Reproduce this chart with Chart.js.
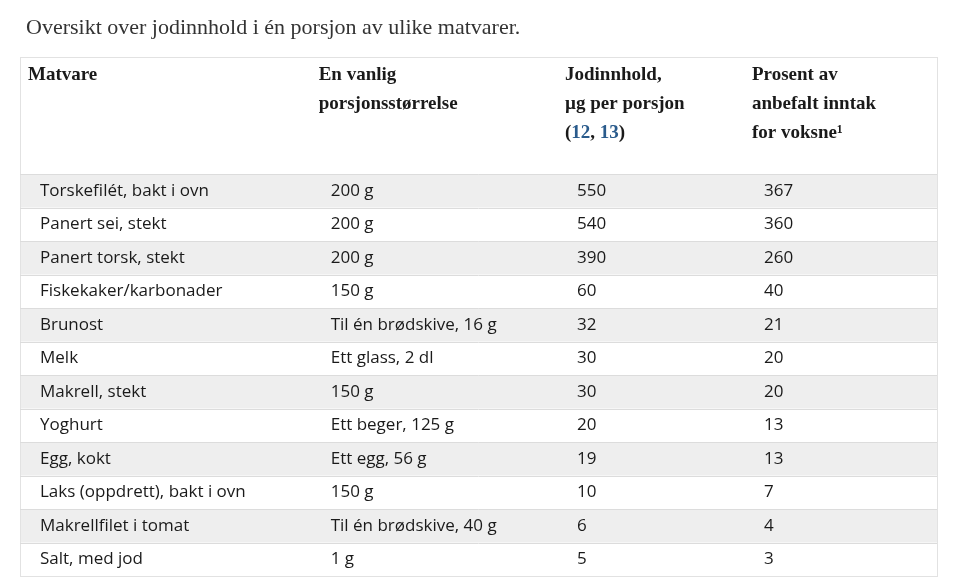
<!DOCTYPE html>
<html>
<head>
<meta charset="utf-8">
<script src="https://cdn.jsdelivr.net/npm/chart.js@4"></script>
<style>
  html, body { margin: 0; padding: 0; background: #fff; }
  #wrap { width: 960px; height: 586px; position: relative; }
</style>
</head>
<body>
<div id="wrap"><canvas id="table-chart"></canvas></div>
<script>
const title = 'Oversikt over jodinnhold i én porsjon av ulike matvarer.';
const headers = [
    ['Matvare'],
    ['En vanlig', 'porsjonsstørrelse'],
    ['Jodinnhold,', 'µg per porsjon', '(12, 13)'],
    ['Prosent av', 'anbefalt inntak', 'for voksne¹']
];
const foods = ['Torskefilét, bakt i ovn', 'Panert sei, stekt', 'Panert torsk, stekt', 'Fiskekaker/karbonader',
    'Brunost', 'Melk', 'Makrell, stekt', 'Yoghurt', 'Egg, kokt', 'Laks (oppdrett), bakt i ovn',
    'Makrellfilet i tomat', 'Salt, med jod'];
const portions = ['200 g', '200 g', '200 g', '150 g', 'Til én brødskive, 16 g', 'Ett glass, 2 dl', '150 g',
    'Ett beger, 125 g', 'Ett egg, 56 g', '150 g', 'Til én brødskive, 40 g', '1 g'];
const iodine = [550, 540, 390, 60, 32, 30, 30, 20, 19, 10, 6, 5];
const percent = [367, 360, 260, 40, 21, 20, 20, 13, 13, 7, 4, 3];

// column start positions on the hidden x scale
const columnStarts = [0, 0.317, 0.5856, 0.7895];

const tablePlugin = {
    id: 'table',
    beforeDraw(chart) {
        const {ctx, scales: {x, y}, chartArea} = chart;
        const rowH = (chartArea.bottom - chartArea.top) / foods.length;
        ctx.save();
        ctx.fillStyle = '#fff';
        ctx.fillRect(0, 0, chart.width, chart.height);

        // title
        ctx.fillStyle = '#333';
        ctx.font = '22px "Liberation Serif", "DejaVu Serif", serif';
        ctx.textBaseline = 'middle';
        ctx.fillText(title, 26, 28);

        // outer box
        ctx.strokeStyle = '#e2e2e2';
        ctx.lineWidth = 1;
        ctx.strokeRect(chartArea.left + 0.5, 57.5, chartArea.right - chartArea.left, chartArea.bottom - 57);

        // headers
        ctx.fillStyle = '#1a1a1a';
        ctx.font = 'bold 19px "Liberation Serif", "DejaVu Serif", serif';
        headers.forEach((lines, c) => {
            lines.forEach((line, k) => {
                const hx = x.getPixelForValue(columnStarts[c]) + 8;
                const hy = 75 + k * 29;
                if (c === 2 && k === 2) {
                    ctx.fillStyle = '#1a1a1a';
                    ctx.fillText('(', hx, hy);
                    let px = hx + ctx.measureText('(').width;
                    ctx.fillStyle = '#2a5b8c';
                    ctx.fillText('12', px, hy); px += ctx.measureText('12').width;
                    ctx.fillStyle = '#1a1a1a';
                    ctx.fillText(', ', px, hy); px += ctx.measureText(', ').width;
                    ctx.fillStyle = '#2a5b8c';
                    ctx.fillText('13', px, hy); px += ctx.measureText('13').width;
                    ctx.fillStyle = '#1a1a1a';
                    ctx.fillText(')', px, hy);
                } else {
                    ctx.fillText(line, hx, hy);
                }
            });
        });

        // rows
        foods.forEach((food, i) => {
            const cy = y.getPixelForValue(i);
            if (i % 2 === 0) {
                ctx.fillStyle = '#eeeeee';
                ctx.fillRect(chartArea.left + 1, cy - rowH / 2, chartArea.right - chartArea.left - 1, rowH);
            }
            ctx.strokeStyle = '#dcdcdc';
            ctx.beginPath();
            ctx.moveTo(chartArea.left, Math.round(cy - rowH / 2) + 0.5);
            ctx.lineTo(chartArea.right, Math.round(cy - rowH / 2) + 0.5);
            ctx.stroke();

            ctx.fillStyle = '#1a1a1a';
            ctx.font = '17px "Open Sans", "Noto Sans", sans-serif';
            const cells = [food, portions[i], String(iodine[i]), String(percent[i])];
            cells.forEach((txt, c) => {
                ctx.fillText(txt, x.getPixelForValue(columnStarts[c]) + 20, cy);
            });
        });
        ctx.restore();
    }
};

new Chart(document.querySelector('#table-chart').getContext('2d'), {
    type: 'bar',
    data: {
        labels: foods,
        datasets: [{ data: iodine, backgroundColor: 'rgba(0,0,0,0)', borderWidth: 0 }]
    },
    options: {
        responsive: true,
        maintainAspectRatio: false,
        animation: false,
        indexAxis: 'y',
        events: [],
        layout: { padding: { top: 174, bottom: 10, left: 20, right: 23 } },
        plugins: { legend: { display: false }, tooltip: { enabled: false } },
        scales: {
            x: { type: 'linear', min: 0, max: 1, display: false },
            y: { type: 'category', display: false, offset: true }
        }
    },
    plugins: [tablePlugin]
});
</script>
</body>
</html>
